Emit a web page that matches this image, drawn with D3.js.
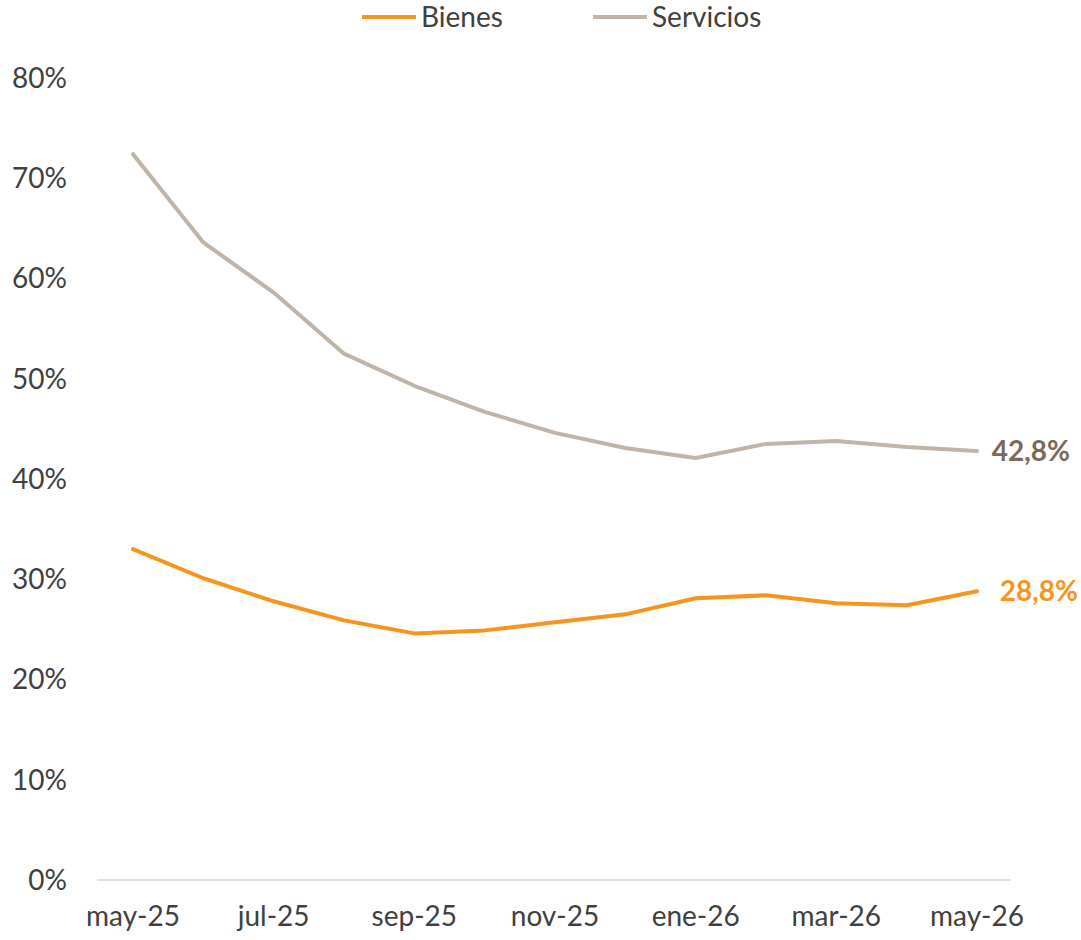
<!DOCTYPE html>
<html><head><meta charset="utf-8">
<script src="https://cdn.jsdelivr.net/npm/d3@7"></script>
<style>body{margin:0;background:#fff;} svg{display:block;}</style>
</head><body>
<svg id="c" width="1081" height="940"></svg>
<script>
const months = ["may-25","jun-25","jul-25","ago-25","sep-25","oct-25","nov-25","dic-25","ene-26","feb-26","mar-26","abr-26","may-26"];
const tickMonths = ["may-25","jul-25","sep-25","nov-25","ene-26","mar-26","may-26"];
const bienes = [33.0,30.1,27.8,25.9,24.6,24.9,25.7,26.5,28.1,28.4,27.6,27.4,28.8];
const servicios = [72.4,63.6,58.6,52.5,49.3,46.7,44.6,43.1,42.1,43.5,43.8,43.2,42.8];
const yTicks = [0,10,20,30,40,50,60,70,80];
const seriesNames = ["Bienes","Servicios"];
const colors = {Bienes:"#F7941D", Servicios:"#C0B4A9"};
const labelColors = {Bienes:"#F7941D", Servicios:"#7A6A59"};

const svg = d3.select("#c");
const font = "Lato, 'Open Sans', sans-serif";
const fs = 28;
const x = d3.scalePoint().domain(months).range([133,977]);
const y = d3.scaleLinear().domain([0,80]).range([880,78]);

svg.append("line").attr("x1",97).attr("x2",1011).attr("y1",y(0)).attr("y2",y(0))
  .attr("stroke","#D9D9D9").attr("stroke-width",1.5);

svg.selectAll(".yl").data(yTicks).enter().append("text")
  .attr("x",67).attr("y",d=>y(d)).attr("dy","0.35em").attr("text-anchor","end")
  .attr("font-family",font).attr("font-size",fs).attr("fill","#404040")
  .text(d=>d+"%");

svg.selectAll(".xl").data(tickMonths).enter().append("text")
  .attr("x",d=>x(d)).attr("y",926).attr("text-anchor","middle")
  .attr("font-family",font).attr("font-size",fs).attr("fill","#404040")
  .text(d=>d);

const line = d3.line().x((d,i)=>x(months[i])).y(d=>y(d));
const data = {Bienes:bienes, Servicios:servicios};
seriesNames.forEach(n=>{
  svg.append("path").datum(data[n]).attr("d",line).attr("fill","none")
    .attr("stroke",colors[n]).attr("stroke-width",4).attr("stroke-linecap","round").attr("stroke-linejoin","round");
  const last = data[n][data[n].length-1];
  svg.append("text").attr("x", n==="Bienes"?1078:1070).attr("y",y(last)).attr("dy","0.35em")
    .attr("text-anchor","end").attr("font-family",font).attr("font-size",fs).attr("font-weight","bold")
    .attr("fill",labelColors[n]).text(last.toFixed(1).replace(".",",")+"%");
});

const legX = {Bienes:362, Servicios:593};
seriesNames.forEach(n=>{
  svg.append("line").attr("x1",legX[n]).attr("x2",legX[n]+54).attr("y1",17).attr("y2",17)
    .attr("stroke",colors[n]).attr("stroke-width",4);
  svg.append("text").attr("x",legX[n]+59).attr("y",17).attr("dy","0.35em")
    .attr("font-family",font).attr("font-size",fs).attr("fill","#404040").text(n);
});
</script>
</body></html>
